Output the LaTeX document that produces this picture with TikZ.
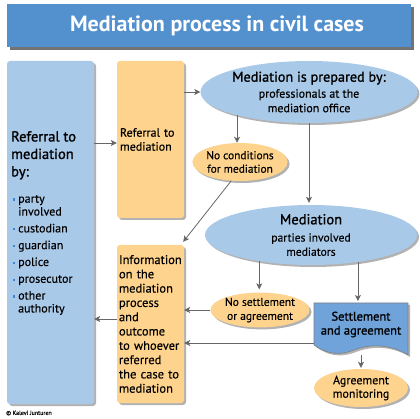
\documentclass[tikz,border=0pt]{standalone}
\usepackage{fontspec}
\setmainfont{PT Sans}[FakeBold=0.3]
\newfontfamily\medf{PT Sans}[FakeBold=1.2]
\newfontfamily\titlef{PT Sans Bold}
\usetikzlibrary{shapes.geometric,shadows,arrows.meta,calc}
\definecolor{titleblue}{HTML}{5290CE}
\definecolor{lightblue}{HTML}{A9C9E8}
\definecolor{peach}{HTML}{FDD38D}
\definecolor{setblue}{HTML}{6FA3DA}
\definecolor{arrowgray}{HTML}{666666}
\definecolor{bulletblue}{HTML}{3F86D6}
\newcommand{\fs}[2]{\fontsize{#1}{#2}\selectfont}
\newcommand{\bul}{\makebox[5pt][l]{\textcolor{bulletblue}{\rule[2pt]{2.2pt}{2.2pt}}}}
\begin{document}
\begin{tikzpicture}[x=1pt,y=-1pt,
  shad/.style={drop shadow={shadow xshift=2pt,shadow yshift=-2pt,opacity=0.3,fill=black}},
  boxblue/.style={rectangle,rounded corners=3pt,fill=lightblue,shad,inner sep=0pt},
  boxpeach/.style={rectangle,rounded corners=3pt,fill=peach,shad,inner sep=0pt},
  ellblue/.style={ellipse,fill=lightblue,shad,inner sep=0pt,align=center},
  ellpeach/.style={ellipse,fill=peach,shad,inner sep=0pt,align=center},
  arr/.style={draw=arrowgray,line width=0.8pt,-{Stealth[length=6pt,width=6pt,inset=1.5pt]}},
  ln/.style={draw=arrowgray,line width=0.8pt}]
\useasboundingbox (0,0) rectangle (420,419);
% title
\node[rectangle,fill=titleblue,minimum width=404pt,minimum height=43pt,inner sep=0pt,
  drop shadow={shadow xshift=3pt,shadow yshift=-3pt,opacity=0.55,fill=black}] (title) at (209,26) {};
\node[text=white,inner sep=0pt,font=\titlef\fs{22}{26}] (titletext) at (217,26) {Mediation process in civil cases};
% left box
\node[boxblue,minimum width=87pt,minimum height=343pt] (lbox) at (50.5,232.5) {};
\node[anchor=north west,inner sep=0pt,align=left,font=\medf\fs{14.5}{17.5}] (lhead) at (11,131) {Referral to\\mediation\\by:};
\node[anchor=north west,inner sep=0pt,align=left,font=\fs{12}{12.9}] (llist) at (13,195)
 {\bul party\\\hspace{5pt}involved\\[3.9pt]\bul custodian\\[3.9pt]\bul guardian\\[3.9pt]\bul police\\[3.9pt]\bul prosecutor\\[3.9pt]\bul other\\\hspace{5pt}authority};
% referral box
\node[boxpeach,minimum width=67pt,minimum height=157pt,text width=61pt,align=left,
  font=\fs{12}{14}] (refbox) at (150.5,139.5) {Referral to\\mediation\\[10pt]};
% info box
\node[boxpeach,minimum width=67pt,minimum height=158pt,text width=63pt,align=left,
  font=\fs{12.5}{14.3}] (info) at (150.5,324) {Information\\on the\\mediation\\process\\and\\outcome\\to whoever\\referred\\the case to\\mediation};
% ellipses
\node[ellblue,minimum width=212pt,minimum height=62pt,font=\fs{12}{14.5}] (prep) at (309,92)
  {{\medf\fs{14.2}{15}Mediation is prepared by:}\\[1.5pt]professionals at the\\mediation office};
\node[ellpeach,minimum width=94pt,minimum height=38pt,font=\fs{11.4}{13.5}] (nc) at (240,162)
  {No conditions\\for mediation};
\node[ellblue,minimum width=212pt,minimum height=60pt,font=\fs{11.6}{14.2}] (med) at (311,235)
  {{\medf\fs{14.5}{16}Mediation}\\[3pt]parties involved\\mediators};
\node[ellpeach,minimum width=94pt,minimum height=34pt,font=\fs{11.5}{14}] (nos) at (260,310)
  {No settlement\\or agreement};
\node[ellpeach,minimum width=94pt,minimum height=38pt,font=\fs{12}{13.5}] (agr) at (361,388)
  {Agreement\\monitoring};
% settlement document shape
\path[fill=setblue,draw=gray,line width=0.6pt,shad]
  (314,303) -- (408,303) -- (408,355)
  .. controls (392,345) and (372,343) .. (354,350)
  .. controls (336,357) and (324,352) .. (314,345) -- cycle;
\node[inner sep=0pt,align=center,font=\medf\fs{12.5}{14}] (set) at (361,324.5) {Settlement\\and agreement};
\coordinate (settop) at (358,303);
\coordinate (setleft) at (314,343);
\coordinate (setbot) at (361,355);
% connectors
\draw[arr] ($(lbox.east |- refbox.west)+(0,3.5)$) -- ($(refbox.west)+(0,3.5)$);
\draw[arr] (refbox.east |- prep.west) -- (prep.west);
\draw[arr] (prep.198) -- (prep.198 |- nc.north);
\draw[arr] (prep.south) -- ($(prep.south |- med.north)+(0,-2)$);
\draw[arr] (nc.245) -- ($(info.north east)+(-1,-3)$);
\draw[arr] (med.207) -- ($(med.207 |- nos.north)+(0,-3)$);
\draw[arr] (med.330) -- ($(med.330 |- settop)+(0,-2)$);
\draw[arr] (nos.west) -- (nos.west -| info.east);
\draw[arr] (setleft) -- (setleft -| info.east);
\draw[arr] ($(info.west)+(0,-5)$) -- ($(info.west -| lbox.east)+(0,-5)$);
\draw[arr] (setbot) -- ($(agr.north)+(0,-1)$);
% credit
\node[anchor=west,inner sep=0pt,font=\fs{6}{7}] (credit) at (6,413) {© Kalevi Junturen};
\end{tikzpicture}
\end{document}
